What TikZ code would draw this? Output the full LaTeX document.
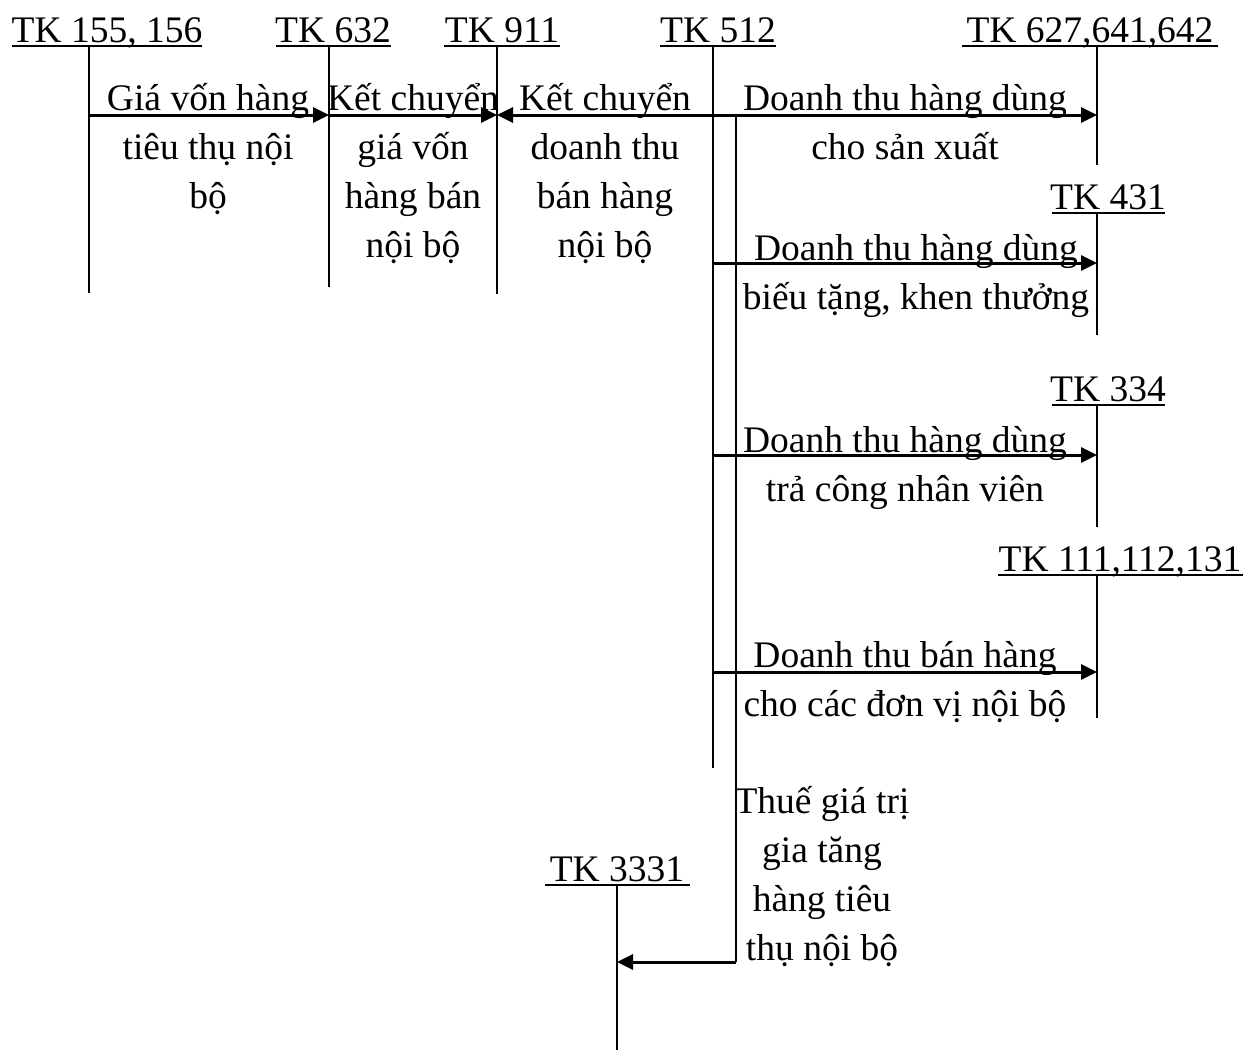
\documentclass[tikz,border=0pt]{standalone}
\usepackage{fontspec}
\setmainfont{Liberation Serif}
\usetikzlibrary{arrows.meta,calc,positioning}

\begin{document}
\begin{tikzpicture}[x=1pt,y=-1pt,
    every node/.style={font=\fontsize{37.5}{49}\selectfont},
    acct/.style={anchor=base,inner xsep=1pt,inner ysep=0pt},
    uline/.style={line width=2pt},
    tline/.style={line width=2pt},
    flow/.style={line width=3pt,-{Triangle[length=16pt,width=15pt]}},
    lbl/.style={anchor=base,align=center,inner sep=0pt}]
        \useasboundingbox (0,0) rectangle (1244,1053);
        % Account headers
        \node[acct] (tk155) at (107,42) {TK 155, 156};
        \node[acct] (tk632) at (333,42) {TK 632};
        \node[acct] (tk911) at (502,42) {TK 911};
        \node[acct] (tk512) at (718,42) {TK 512};
        \node[acct] (tk627) at (1090,42) {TK 627,641,642};
        \node[acct] (tk431) at (1108,209) {TK 431};
        \node[acct] (tk334) at (1108,401) {TK 334};
        \node[acct] (tk111) at (1120,571) {TK 111,112,131};
        \node[acct] (tk3331) at (617,881) {TK 3331};
        % Underlines
        \draw[uline] (12,46) -- (202,46);
        \draw[uline] (276,46) -- (391,46);
        \draw[uline] (444,46) -- (560,46);
        \draw[uline] (660,46) -- (776,46);
        \draw[uline] (962,46) -- (1218,46);
        \draw[uline] (1052,213) -- (1165,213);
        \draw[uline] (1052,405) -- (1165,405);
        \draw[uline] (998,575) -- (1243,575);
        \draw[uline] (545,885) -- (690,885);
        % T-account lines
        \coordinate (a1) at (89,46);   \coordinate (a1e) at (89,293);
        \coordinate (a2) at (329,46);  \coordinate (a2e) at (329,287);
        \coordinate (a3) at (497,46);  \coordinate (a3e) at (497,294);
        \coordinate (a4) at (713,46);  \coordinate (a4e) at (713,768);
        \coordinate (a5) at (736,115); \coordinate (a5e) at (736,962);
        \coordinate (b1) at (1097,46);  \coordinate (b1e) at (1097,165);
        \coordinate (b2) at (1097,213); \coordinate (b2e) at (1097,335);
        \coordinate (b3) at (1097,405); \coordinate (b3e) at (1097,527);
        \coordinate (b4) at (1097,575); \coordinate (b4e) at (1097,718);
        \coordinate (c1) at (617,885);  \coordinate (c1e) at (617,1050);
        \draw[tline] (a1) -- (a1e);
        \draw[tline] (a2) -- (a2e);
        \draw[tline] (a3) -- (a3e);
        \draw[tline] (a4) -- (a4e);
        \draw[tline] (a5) -- (a5e);
        \draw[tline] (b1) -- (b1e);
        \draw[tline] (b2) -- (b2e);
        \draw[tline] (b3) -- (b3e);
        \draw[tline] (b4) -- (b4e);
        \draw[tline] (c1) -- (c1e);
        % Rows of the entries
        \coordinate (r1) at (0,115);
        \coordinate (r2) at (0,263);
        \coordinate (r3) at (0,455);
        \coordinate (r4) at (0,672);
        \coordinate (r5) at (0,962);
        % Entries
        \draw[flow] (a1 |- r1) -- (a2 |- r1);
        \draw[flow] (a2 |- r1) -- (a3 |- r1);
        \draw[flow] (a4 |- r1) -- (a3 |- r1);
        \draw[flow] (a4 |- r1) -- (b1 |- r1);
        \draw[flow] (a4 |- r2) -- (b2 |- r2);
        \draw[flow] (a4 |- r3) -- (b3 |- r3);
        \draw[flow] (a4 |- r4) -- (b4 |- r4);
        \draw[flow] (a5e) -- (c1 |- r5);
        % Labels (base = last line)
        \node[lbl] (l1) at (208,208) {Giá vốn hàng\\tiêu thụ nội\\bộ};
        \node[lbl] (l2) at (413,257) {Kết chuyển\\giá vốn\\hàng bán\\nội bộ};
        \node[lbl] (l3) at (605,257) {Kết chuyển\\doanh thu\\bán hàng\\nội bộ};
        \node[lbl] (l4) at (905,159) {Doanh thu hàng dùng\\cho sản xuất};
        \node[lbl] (l5) at (916,309) {Doanh thu hàng dùng\\biếu tặng, khen thưởng};
        \node[lbl] (l6) at (905,501) {Doanh thu hàng dùng\\trả công nhân viên};
        \node[lbl] (l7) at (905,716) {Doanh thu bán hàng\\cho các đơn vị nội bộ};
        \node[lbl] (l8) at (822,960) {Thuế giá trị\\gia tăng\\hàng tiêu\\thụ nội bộ};
\end{tikzpicture}
\end{document}
